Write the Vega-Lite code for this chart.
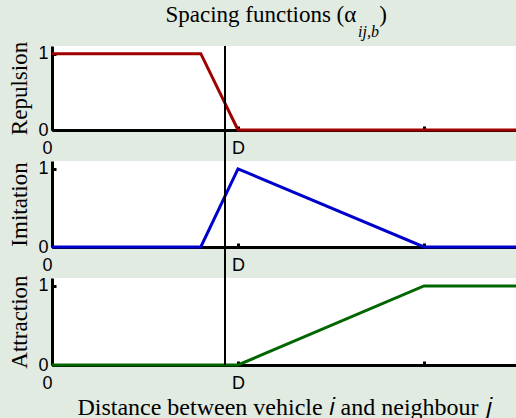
{
  "$schema": "https://vega.github.io/schema/vega-lite/v6.json",
  "background": "#e2ebe2",
  "padding": {"left": 8, "top": 4, "right": 0, "bottom": 0},
  "title": {
    "text": "Spacing functions (α\u2003)",
    "subtitle": "ij,b\u2002\u200b",
    "anchor": "end",
    "dx": -136,
    "font": "Liberation Serif",
    "fontSize": 23,
    "fontWeight": "normal",
    "color": "black",
    "subtitleFont": "Liberation Serif",
    "subtitleFontStyle": "italic",
    "subtitleFontSize": 16,
    "subtitleColor": "black",
    "subtitlePadding": -3,
    "offset": 1
  },
  "datasets": {
    "curves": [
      {"f": "Repulsion", "d": 0, "v": 1},
      {"f": "Repulsion", "d": 0.8, "v": 1},
      {"f": "Repulsion", "d": 1.0, "v": 0},
      {"f": "Repulsion", "d": 2.5, "v": 0},
      {"f": "Imitation", "d": 0, "v": 0},
      {"f": "Imitation", "d": 0.8, "v": 0},
      {"f": "Imitation", "d": 1.0, "v": 1},
      {"f": "Imitation", "d": 2.0, "v": 0},
      {"f": "Imitation", "d": 2.5, "v": 0},
      {"f": "Attraction", "d": 0, "v": 0},
      {"f": "Attraction", "d": 1.0, "v": 0},
      {"f": "Attraction", "d": 2.0, "v": 1},
      {"f": "Attraction", "d": 2.5, "v": 1}
    ],
    "marker": [{"d": 0.93}]
  },
  "bounds": "flush",
  "spacing": 31,
  "vconcat": [
    {
      "width": 465,
      "height": 84,
      "layer": [
        {
          "data": {"name": "curves"},
          "transform": [{"filter": "datum.f === 'Repulsion'"}],
          "mark": {"type": "line", "color": "#a00000", "strokeWidth": 3},
          "encoding": {
            "x": {"field": "d", "type": "quantitative", "scale": {"domain": [0, 2.5], "nice": false}, "axis": {"title": null, "values": [0, 1, 2]}},
            "y": {"field": "v", "type": "quantitative", "scale": {"domain": [0, 1.1], "nice": false}, "axis": {"title": "Repulsion", "values": [0, 1]}}
          }
        },
        {
          "data": {"name": "marker"},
          "mark": {"type": "rule", "color": "black", "strokeWidth": 2},
          "encoding": {
            "x": {"field": "d", "type": "quantitative"},
            "y": {"datum": 1.1},
            "y2": {"datum": -0.42}
          }
        }
      ]
    },
    {
      "width": 465,
      "height": 86,
      "layer": [
        {
          "data": {"name": "curves"},
          "transform": [{"filter": "datum.f === 'Imitation'"}],
          "mark": {"type": "line", "color": "#0000cc", "strokeWidth": 3},
          "encoding": {
            "x": {"field": "d", "type": "quantitative", "scale": {"domain": [0, 2.5], "nice": false}, "axis": {"title": null, "values": [0, 1, 2]}},
            "y": {"field": "v", "type": "quantitative", "scale": {"domain": [0, 1.1], "nice": false}, "axis": {"title": "Imitation", "values": [0, 1]}}
          }
        },
        {
          "data": {"name": "marker"},
          "mark": {"type": "rule", "color": "black", "strokeWidth": 2},
          "encoding": {
            "x": {"field": "d", "type": "quantitative"},
            "y": {"datum": 1.1},
            "y2": {"datum": -0.42}
          }
        }
      ]
    },
    {
      "width": 465,
      "height": 87,
      "layer": [
        {
          "data": {"name": "curves"},
          "transform": [{"filter": "datum.f === 'Attraction'"}],
          "mark": {"type": "line", "color": "#006600", "strokeWidth": 3},
          "encoding": {
            "x": {"field": "d", "type": "quantitative", "scale": {"domain": [0, 2.5], "nice": false}, "axis": {"title": "Distance between vehicle 𝑖 and neighbour 𝑗", "titleFontSize": 24, "values": [0, 1, 2]}},
            "y": {"field": "v", "type": "quantitative", "scale": {"domain": [0, 1.1], "nice": false}, "axis": {"title": "Attraction", "values": [0, 1]}}
          }
        },
        {
          "data": {"name": "marker"},
          "mark": {"type": "rule", "color": "black", "strokeWidth": 2},
          "encoding": {
            "x": {"field": "d", "type": "quantitative"},
            "y": {"datum": 1.1},
            "y2": {"datum": 0}
          }
        }
      ]
    }
  ],
  "config": {
    "view": {"fill": "white", "stroke": null},
    "axis": {
      "grid": false,
      "domainColor": "black",
      "domainWidth": 3,
      "tickColor": "black",
      "tickWidth": 3,
      "tickSize": -4,
      "labelFont": "Liberation Sans",
      "labelFontSize": 18,
      "labelColor": "black",
      "titleFont": "Liberation Serif",
      "titleFontSize": 23,
      "titleFontWeight": "normal",
      "titleColor": "black"
    },
    "axisX": {
      "labelExpr": "datum.value === 0 ? '0' : datum.value === 1 ? 'D' : ''",
      "labelAlign": {"expr": "datum.value === 0 ? 'right' : 'center'"},
      "labelPadding": 13,
      "labelBaseline": "top",
      "titlePadding": 3
    },
    "axisY": {
      "format": "d",
      "labelPadding": 8,
      "titlePadding": 6
    }
  }
}
